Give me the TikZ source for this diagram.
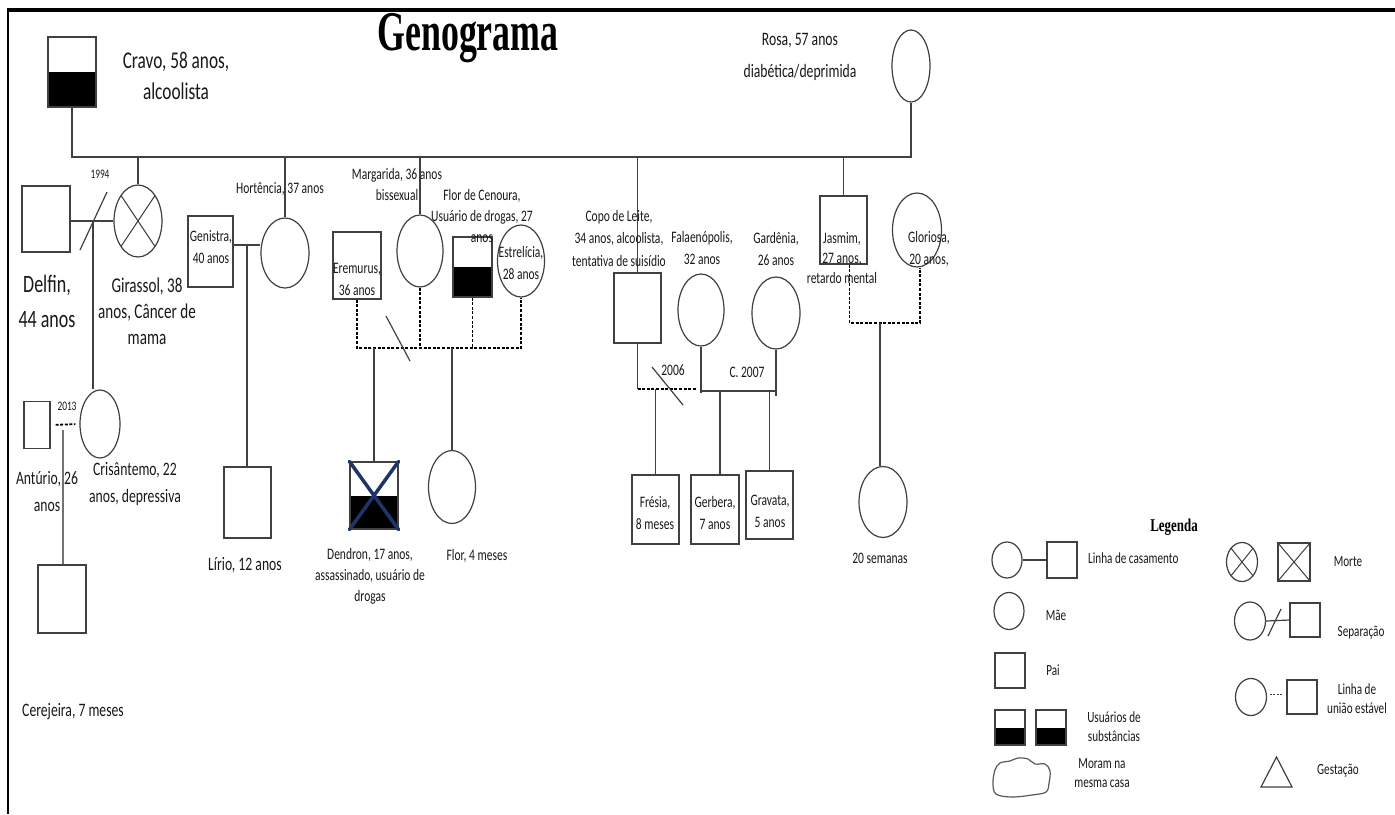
\documentclass[tikz,border=0pt]{standalone}
\usepackage{fontspec}
\setmainfont{Carlito}[FakeStretch=0.72]
\newfontfamily\titlefont{Liberation Serif}[FakeStretch=0.64]
\newfontfamily\legfont{Liberation Serif}[FakeStretch=0.72]
\usetikzlibrary{shapes.geometric}
\newcommand\fsz[2]{\fontsize{#1}{#2}\selectfont}
\definecolor{xblue}{RGB}{31,52,105}
\begin{document}
\begin{tikzpicture}[x=1pt,y=-1pt,
  ln/.style={draw=black!75, line width=1.2pt},
  dsh/.style={draw=black, line width=1.8pt, dash pattern=on 3pt off 1.6pt},
  sq/.style={rectangle, draw=black!75, line width=1.2pt, inner sep=0pt},
  ell/.style={ellipse, draw=black!75, line width=1.2pt, inner sep=0pt},
  user/.style={path picture={\fill[black] (path picture bounding box.west) rectangle (path picture bounding box.south east);}},
  dead/.style={path picture={\draw[black!75, line width=1pt] (path picture bounding box.north west) -- (path picture bounding box.south east) (path picture bounding box.north east) -- (path picture bounding box.south west);}},
  txt/.style={inner sep=0pt, align=center, text=black!90},
  t16/.style={txt, font=\fsz{16}{22}},
  lg/.style={txt, font=\fsz{15.5}{19}},
]
\useasboundingbox (0,0) rectangle (1395,814);
\fill[white] (0,0) rectangle (1395,814);
% frame
\draw[line width=3.2pt] (7,10) -- (1395,10);
\draw[line width=2pt] (8,10) -- (8,814);

% title
\node[txt, text=black, font=\titlefont\bfseries\fsz{56}{56}] (title) at (468,38) {Genograma};

% grandparents
\node[sq, user, minimum width=48pt, minimum height=70pt] (cravo) at (72,72) {};
\node[txt, font=\fsz{24}{31}] (cravoT) at (176,76) {Cravo, 58 anos,\\alcoolista};
\node[ell, minimum width=38pt, minimum height=72pt] (rosa) at (911,66) {};
\node[txt, font=\fsz{19}{32}] (rosaT) at (800,57) {Rosa, 57 anos\\diabética/deprimida};
\coordinate (bar) at (0,157);
\draw[ln] (cravo.south) -- (cravo.south |- bar) -- (rosa.south |- bar) -- (rosa.south);

% Girassol family
\node[sq, minimum width=48pt, minimum height=66pt] (delfin) at (46,219) {};
\node[ell, dead, minimum width=48pt, minimum height=72pt] (giras) at (138,221) {};
\draw[ln] (giras.north) -- (giras.north |- bar);
\draw[ln] (delfin.east |- giras.west) -- (giras.west);
\draw[ln] (80,250) -- (107,192);
\node[txt, font=\fsz{13}{15}] (y1994) at (100,174) {1994};
\node[txt, font=\fsz{25}{35}] (delfinT) at (47,301) {Delfin,\\44 anos};
\node[txt, font=\fsz{21}{26}] (girasT) at (147,311) {Girassol, 38\\anos, Câncer de\\mama};
\coordinate (gm) at (93,221);
\node[ell, minimum width=40pt, minimum height=68pt] (cris) at (100,424) {};
\draw[ln] (gm) -- (gm |- cris.north);
\node[sq, minimum width=26pt, minimum height=47pt] (ant) at (37,425) {};
\draw[dsh, shorten <=5pt, shorten >=4pt] (ant.east) -- (cris.west);
\node[txt, font=\fsz{13}{15}] (y2013) at (67,406) {2013};
\node[txt, font=\fsz{19}{27}] (antT) at (47,492) {Antúrio, 26\\anos};
\node[txt, font=\fsz{19}{27}] (crisT) at (135,484) {Crisântemo, 22\\anos, depressiva};
\node[sq, minimum width=48pt, minimum height=68pt] (cer) at (62,599) {};
\coordinate (am) at (63,430);
\draw[draw=black!55, line width=1.2pt] (am) -- (am |- cer.north);
\node[txt, font=\fsz{19}{24}] (cerT) at (73,712) {Cerejeira, 7 meses};

% Hortencia family
\node[ell, minimum width=48pt, minimum height=70pt] (hort) at (285,253) {};
\draw[ln] (hort.north) -- (hort.north |- bar);
\node[t16] (hortT) at (280,189) {Hortência, 37 anos};
\node[sq, minimum width=45pt, minimum height=71pt] (gen) at (210.5,251.5) {};
\node[t16] (genT) at (211,247) {Genistra,\\40 anos};
\coordinate (hm) at (247,245);
\draw[ln] (gen.east |- hm) -- (hort.west |- hm);
\node[sq, minimum width=47pt, minimum height=71pt] (lirio) at (247.5,502.5) {};
\draw[ln] (hm) -- (hm |- lirio.north);
\node[txt, font=\fsz{19}{24}] (lirioT) at (245,565) {Lírio, 12 anos};

% Margarida group
\node[ell, minimum width=46pt, minimum height=72pt] (marg) at (420,251) {};
\draw[ln] (marg.north) -- (marg.north |- bar);
\node[t16, font=\fsz{16}{21}] (margT) at (397,185) {Margarida, 36 anos\\bissexual};
\node[sq, minimum width=48pt, minimum height=67pt] (erem) at (357,265.5) {};
\node[t16] (eremT) at (357,279) {Eremurus,\\36 anos};
\node[sq, user, minimum width=39pt, minimum height=60pt] (florc) at (472.5,267) {};
\node[t16, font=\fsz{16}{21}] (florcT) at (482,216) {Flor de Cenoura,\\Usuário de drogas, 27\\anos};
\node[ell, minimum width=47pt, minimum height=72pt] (estr) at (521,261) {};
\node[t16] (estrT) at (521,263) {Estrelícia,\\28 anos};
\coordinate (mg) at (0,348);
\draw[dsh] (erem.south) -- (erem.south |- mg) -- (estr.south |- mg) -- (estr.south);
\draw[dsh] (marg.south) -- (marg.south |- mg);
\draw[dsh] (florc.south) -- (florc.south |- mg);
\draw[ln] (386,316) -- (410,361);
\node[sq, user, minimum width=48pt, minimum height=67pt] (dend) at (374,495.5) {};
\draw[xblue, line width=3.5pt, line cap=round] (dend.north west) -- (dend.south east) (dend.north east) -- (dend.south west);
\draw[ln] (dend.north |- mg) -- (dend.north);
\node[t16, font=\fsz{16}{21}] (dendT) at (370,576) {Dendron, 17 anos,\\assassinado, usuário de\\drogas};
\node[ell, minimum width=47pt, minimum height=73pt] (flor) at (452,487) {};
\draw[ln] (flor.north |- mg) -- (flor.north);
\node[t16] (florT) at (477,556) {Flor, 4 meses};

% Copo de Leite group
\node[sq, minimum width=47pt, minimum height=70pt] (copo) at (637.5,308) {};
\draw[ln] (copo.north) -- (copo.north |- bar);
\node[t16, font=\fsz{16}{22.5}] (copoT) at (619,238) {Copo de Leite,\\34 anos, alcoolista,\\tentativa de suisídio};
\node[ell, minimum width=46pt, minimum height=72pt] (fal) at (701,310) {};
\node[t16] (falT) at (702,248) {Falaenópolis,\\32 anos};
\node[ell, minimum width=48pt, minimum height=72pt] (gard) at (776,313) {};
\node[t16] (gardT) at (776,249) {Gardênia,\\26 anos};
\coordinate (c6) at (0,389);
\coordinate (c7) at (0,391);
\draw[ln] (copo.south) -- (copo.south |- c6);
\draw[dsh, shorten >=4pt] (copo.south |- c6) -- (fal.south |- c6);
\draw[ln] (fal.south) -- ([yshift=-2pt]fal.south |- c7);
\draw[ln] (gard.south) -- ([yshift=-5pt]gard.south |- c7);
\draw[ln] (fal.south |- c7) -- (gard.south |- c7);
\draw[ln] (652,367) -- (683,405);
\node[t16] (y2006) at (673,370) {2006};
\node[t16] (y2007) at (747,372) {C. 2007};
\node[sq, minimum width=47pt, minimum height=69pt] (fres) at (655.5,509.5) {};
\draw[ln] (fres.north |- c6) -- (fres.north);
\node[t16] (fresT) at (655,513) {Frésia,\\8 meses};
\node[sq, minimum width=48pt, minimum height=69pt] (ger) at (715,509.5) {};
\coordinate (gerx) at (720,0);
\draw[ln] (gerx |- c7) -- (gerx |- ger.north);
\node[t16] (gerT) at (715,513) {Gerbera,\\7 anos};
\node[sq, minimum width=47pt, minimum height=68pt] (grav) at (769.5,505) {};
\draw[ln] (grav.north |- c7) -- (grav.north);
\node[t16] (gravT) at (770,511) {Gravata,\\5 anos};

% Jasmim group
\node[sq, minimum width=47pt, minimum height=68pt] (jas) at (843.5,230) {};
\draw[ln] (jas.north) -- (jas.north |- bar);
\node[ell, minimum width=49pt, minimum height=74pt] (glor) at (917,230) {};
\node[t16, font=\fsz{16}{20}] (jasT) at (842,258) {Jasmim,\\27 anos,\\retardo mental};
\node[t16] (glorT) at (929,249) {Gloriosa,\\20 anos,};
\coordinate (jg) at (0,323);
\draw[dsh] ([xshift=6pt]jas.south) -- ([xshift=6pt]jas.south |- jg) -- ([xshift=3pt]glor.south |- jg) -- ([xshift=3pt]glor.south);
\node[ell, minimum width=48pt, minimum height=71pt] (sem) at (883,502) {};
\coordinate (jc) at (880,0);
\draw[ln] (jc |- jg) -- (jc |- sem.north);
\node[t16] (semT) at (880,558) {20 semanas};

% Legend
\node[txt, text=black, font=\legfont\bfseries\fsz{18}{18}] (legT) at (1174,527) {Legenda};
\node[ell, minimum width=30pt, minimum height=36pt] (l1c) at (1007,560) {};
\node[sq, minimum width=30pt, minimum height=36pt] (l1s) at (1062,560) {};
\draw[ln] (l1c.east) -- (l1s.west);
\node[lg, anchor=west] (l1t) at (1088,558) {Linha de casamento};
\node[ell, dead, minimum width=31pt, minimum height=39pt] (lmc) at (1242,562) {};
\node[sq, dead, minimum width=32pt, minimum height=38pt] (lms) at (1294,562) {};
\node[lg] (lmt) at (1348,562) {Morte};
\node[ell, minimum width=30pt, minimum height=37pt] (lmae) at (1009,611) {};
\node[lg] (lmaet) at (1056,615) {Mãe};
\node[ell, minimum width=31pt, minimum height=38pt] (lsc) at (1250,621) {};
\node[sq, minimum width=30pt, minimum height=34pt] (lss) at (1305,620) {};
\draw[ln] (lsc.east) -- (lss.west);
\draw[ln] (1268,636) -- (1281,609);
\node[lg] (lst) at (1361,633) {Separação};
\node[sq, minimum width=30pt, minimum height=35pt] (lpai) at (1010,670.5) {};
\node[lg] (lpait) at (1053,670) {Pai};
\node[ell, minimum width=31pt, minimum height=37pt] (luc) at (1251,697) {};
\node[sq, minimum width=30pt, minimum height=34pt] (lus) at (1302,697) {};
\draw[black!75, line width=1pt, dash pattern=on 2pt off 1.2pt, shorten <=3pt, shorten >=4pt] (luc.east |- 0,694) -- (lus.west |- 0,694);
\node[lg] (lut) at (1357,699) {Linha de\\união estável};
\node[sq, user, minimum width=30pt, minimum height=35pt] (lu1) at (1010,727.5) {};
\node[sq, user, minimum width=30pt, minimum height=35pt] (lu2) at (1051,727.5) {};
\node[lg] (lu1t) at (1114,727) {Usuários de\\substâncias};
\draw[ln, draw=black!65] plot[smooth cycle, tension=0.6] coordinates {(995,770) (1000,763) (1010,761) (1018,758) (1028,759) (1035,764) (1045,764) (1050,771) (1049,783) (1046,792) (1032,795) (1012,797) (996,794) (993,783)};
\node[lg] (lct) at (1102,773) {Moram na\\mesma casa};
\draw[ln] (1261,787) -- (1292,787) -- (1276.5,757) -- cycle;
\node[lg] (lgt) at (1338,771) {Gestação};
\end{tikzpicture}
\end{document}
